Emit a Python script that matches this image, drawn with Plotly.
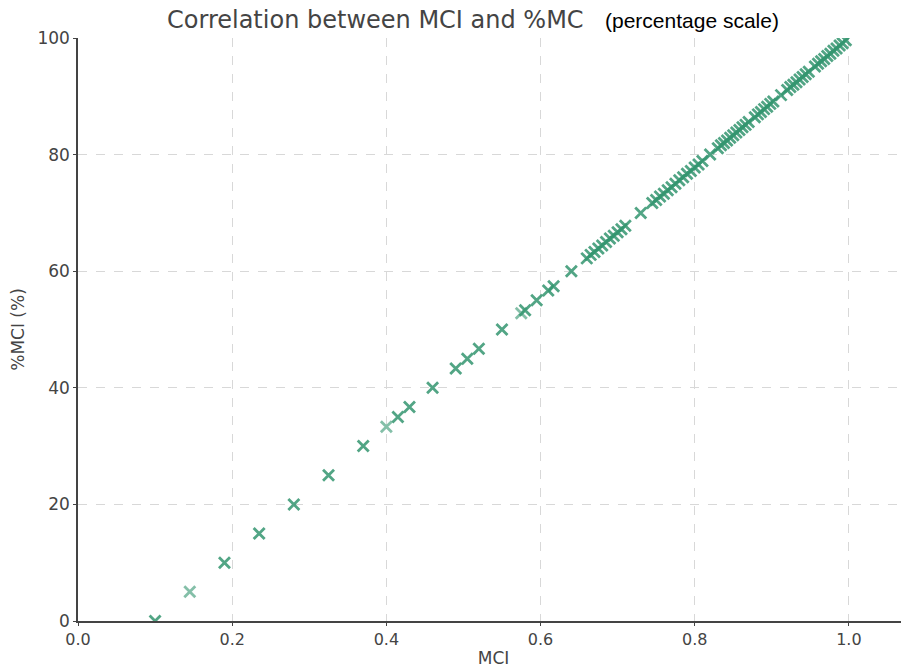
import plotly.graph_objects as go

# MCI values
mci = [0.10, 0.145, 0.19, 0.235, 0.28, 0.325, 0.37, 0.40, 0.415, 0.43, 0.46,
       0.49, 0.505, 0.52, 0.55, 0.575, 0.58, 0.595, 0.61, 0.617, 0.64,
       0.66, 0.665, 0.67, 0.675, 0.68, 0.685, 0.69, 0.695, 0.70, 0.705, 0.71,
       0.73,
       0.745, 0.75, 0.755, 0.76, 0.765, 0.77, 0.775, 0.78, 0.785, 0.79, 0.795,
       0.80, 0.805, 0.81,
       0.82,
       0.83, 0.834, 0.838, 0.842, 0.846, 0.85, 0.854, 0.858, 0.862, 0.866, 0.87,
       0.878, 0.882, 0.886, 0.89, 0.894, 0.898, 0.902,
       0.912,
       0.92, 0.924, 0.928, 0.932, 0.936, 0.94, 0.944, 0.948,
       0.956, 0.96, 0.964, 0.968, 0.972, 0.976, 0.98, 0.984, 0.988, 0.992, 0.996]
# %MCI values (percentage scale)
pct = [0.0, 5.0, 10.0, 15.0, 20.0, 25.0, 30.0, 33.3, 35.0, 36.7, 40.0,
       43.3, 45.0, 46.7, 50.0, 52.8, 53.3, 55.0, 56.7, 57.4, 60.0,
       62.2, 62.8, 63.3, 63.9, 64.4, 65.0, 65.6, 66.1, 66.7, 67.2, 67.8,
       70.0,
       71.7, 72.2, 72.8, 73.3, 73.9, 74.4, 75.0, 75.6, 76.1, 76.7, 77.2,
       77.8, 78.3, 78.9,
       80.0,
       81.1, 81.6, 82.0, 82.4, 82.9, 83.3, 83.8, 84.2, 84.7, 85.1, 85.6,
       86.4, 86.9, 87.3, 87.8, 88.2, 88.7, 89.1,
       90.2,
       91.1, 91.6, 92.0, 92.4, 92.9, 93.3, 93.8, 94.2,
       95.1, 95.6, 96.0, 96.4, 96.9, 97.3, 97.8, 98.2, 98.7, 99.1, 99.6]
light_points = {0.145, 0.40, 0.575}

x_ticks = [0.0, 0.2, 0.4, 0.6, 0.8, 1.0]
y_ticks = [0, 20, 40, 60, 80, 100]

opac = [0.6 if v in light_points else 0.85 for v in mci]

fig = go.Figure()
fig.add_trace(go.Scatter(
    x=mci, y=pct, mode="markers",
    marker=dict(symbol="x-thin", size=11, opacity=opac,
                color="rgb(52,150,112)",
                line=dict(width=2.8, color="rgb(52,150,112)")),
    showlegend=False,
))

fig.update_layout(
    width=909, height=672,
    margin=dict(l=70, r=8, t=30, b=59),
    paper_bgcolor="white", plot_bgcolor="white",
    xaxis=dict(range=[0, 1.078], tickvals=x_ticks, ticktext=[f"{v:.1f}" for v in x_ticks],
               tickfont=dict(family="DejaVu Sans", size=16, color="#444444"),
               showgrid=True, gridcolor="#d8d8d8", griddash="dash",
               gridwidth=1, zeroline=False, showline=True, linecolor="#444444", linewidth=1.5,
               ticks="outside", ticklen=3, tickcolor="#444444", automargin=False,
               title=dict(text="MCI", font=dict(family="DejaVu Sans", size=17, color="#444444"),
                          standoff=4)),
    yaxis=dict(range=[0, 100], tickvals=y_ticks,
               tickfont=dict(family="DejaVu Sans", size=17, color="#444444"),
               showgrid=True, gridcolor="#d8d8d8", griddash="dash", gridwidth=1,
               zeroline=False, showline=True, linecolor="#444444", linewidth=1.5,
               ticks="outside", ticklen=3, tickcolor="#444444", automargin=False,
               title=dict(text="%MCI (%)", font=dict(family="DejaVu Sans", size=17, color="#444444"),
                          standoff=12)),
    annotations=[
        dict(text="Correlation between MCI and %MC", xref="paper", yref="paper",
             x=(367 - 70) / 831, y=1, yshift=18, xanchor="center", yanchor="middle",
             showarrow=False, font=dict(family="DejaVu Sans", size=24, color="#444444")),
        dict(text="(percentage scale)", xref="paper", yref="paper",
             x=(684 - 70) / 831, y=1, yshift=18, xanchor="center", yanchor="middle",
             showarrow=False, font=dict(family="Liberation Sans", size=21, color="#000000")),
    ],
)

fig.write_html("out.html")
